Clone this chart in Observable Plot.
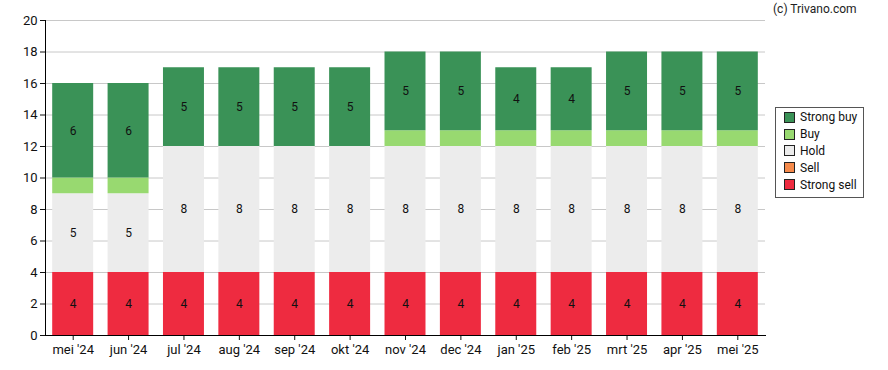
<!DOCTYPE html>
<html>
<head>
<meta charset="utf-8">
<script src="https://cdn.jsdelivr.net/npm/d3@7"></script>
<script src="https://cdn.jsdelivr.net/npm/@observablehq/plot@0.6"></script>
<style>
  html, body { margin: 0; padding: 0; background: #fff; }
  body { font-family: Roboto, "Liberation Sans", sans-serif; }
  #wrap { position: relative; width: 888px; height: 370px; }
  #credit { position: absolute; left: 773px; top: 2px; font-size: 12px; color: #222; }
  #legend { position: absolute; left: 775px; top: 107px; width: 89px; height: 91px;
            border: 1px solid #555; box-sizing: border-box; padding: 1px 0 0 8px; background: #fff; }
  .li { display: flex; align-items: center; height: 16.8px; font-size: 12px; color: #111; }
  .sw { width: 9px; height: 9px; border: 1px solid #222; margin-right: 5px; }
</style>
</head>
<body>
<div id="wrap">
  <div id="chart"></div>
  <div id="credit">(c) Trivano.com</div>
  <div id="legend"></div>
</div>
<script>
const months = ["mei '24","jun '24","jul '24","aug '24","sep '24","okt '24","nov '24","dec '24","jan '25","feb '25","mrt '25","apr '25","mei '25"];
const seriesNames = ["Strong sell","Sell","Hold","Buy","Strong buy"];
const strongSell = [4,4,4,4,4,4,4,4,4,4,4,4,4];
const sell       = [0,0,0,0,0,0,0,0,0,0,0,0,0];
const hold       = [5,5,8,8,8,8,8,8,8,8,8,8,8];
const buy        = [1,1,0,0,0,0,1,1,1,1,1,1,1];
const strongBuy  = [6,6,5,5,5,5,5,5,4,4,5,5,5];
const colors = {"Strong buy":"#3a9257","Buy":"#98d970","Hold":"#ececec","Sell":"#f58a4b","Strong sell":"#ee2b40"};
const yTicks = [0,2,4,6,8,10,12,14,16,18,20];

const valuesBySeries = {"Strong sell":strongSell,"Sell":sell,"Hold":hold,"Buy":buy,"Strong buy":strongBuy};
const data = [];
months.forEach((m,i) => seriesNames.forEach(s => data.push({month:m, series:s, value:valuesBySeries[s][i]})));

const chart = Plot.plot({
  width: 888, height: 370,
  marginLeft: 45, marginRight: 123, marginTop: 20, marginBottom: 35,
  style: {fontFamily: "Roboto, sans-serif", fontSize: "12px", color: "#111"},
  x: {domain: months, paddingInner: 0.26, paddingOuter: 0.13, round: false, label: null},
  y: {domain: [0,20], label: null},
  color: {domain: seriesNames, range: seriesNames.map(s => colors[s])},
  marks: [
    Plot.ruleY(yTicks, {stroke: "#c8c8c8", strokeWidth: 1}),
    Plot.barY(data, {x: "month", y: "value", fill: "series", order: seriesNames, z: "series"}),
    Plot.text(data, Plot.stackY({x: "month", y: "value", z: "series", order: seriesNames,
      text: d => d.value >= 2 ? String(d.value) : "", fill: "#111", fontSize: 12})),
    Plot.axisY({ticks: yTicks, tickSize: 5, tickPadding: 3, fontSize: 13, label: null}),
    Plot.axisX({tickSize: 5, tickPadding: 4, fontSize: 13, label: null}),
    Plot.frame({anchor: "left", stroke: "#000"}),
    Plot.frame({anchor: "bottom", stroke: "#000"})
  ]
});
document.getElementById("chart").appendChild(chart);

const legend = document.getElementById("legend");
["Strong buy","Buy","Hold","Sell","Strong sell"].forEach(s => {
  const row = document.createElement("div"); row.className = "li";
  const sw = document.createElement("span"); sw.className = "sw"; sw.style.background = colors[s];
  const t = document.createElement("span"); t.textContent = s;
  row.appendChild(sw); row.appendChild(t); legend.appendChild(row);
});
</script>
</body>
</html>
